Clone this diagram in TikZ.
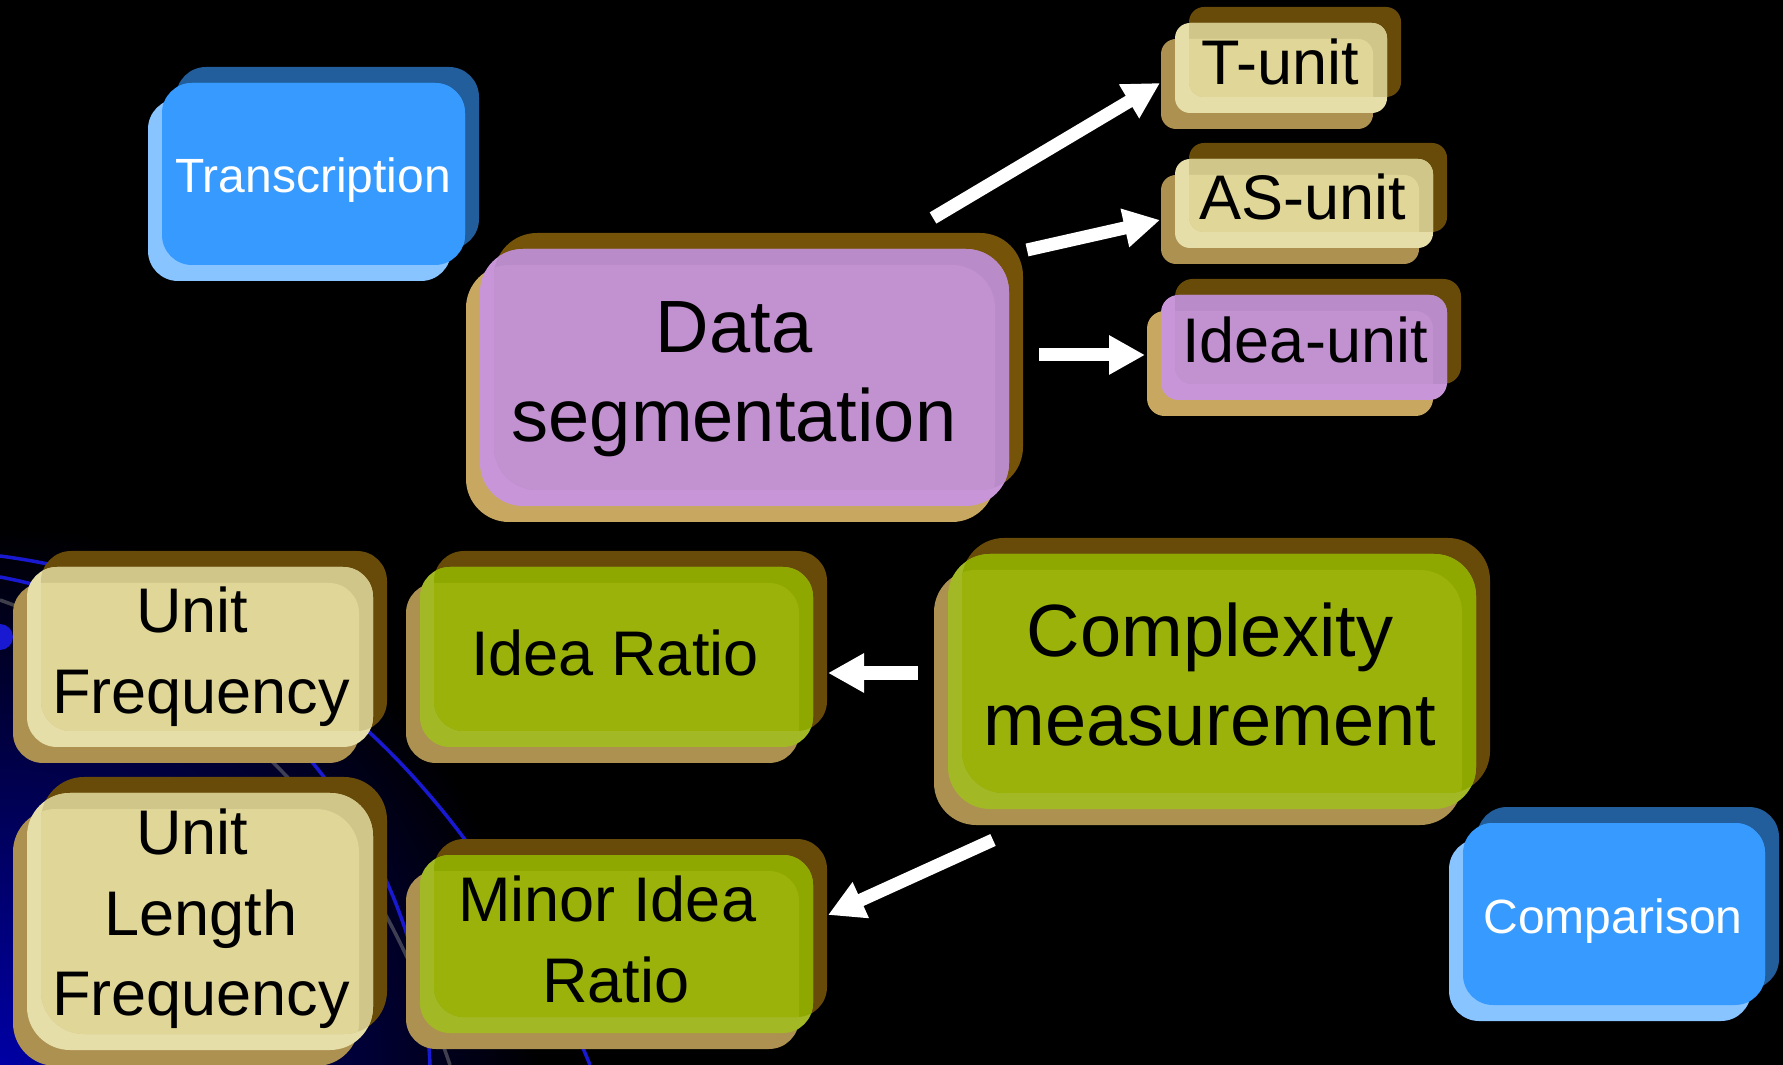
\documentclass[tikz,border=0pt]{standalone}
\usepackage{fontspec}
\setmainfont{Liberation Sans}
\usetikzlibrary{arrows.meta}
% tan scheme
\definecolor{tanD}{RGB}{104,75,8}
\definecolor{tanL}{RGB}{173,145,80}
\definecolor{tanM}{RGB}{230,222,168}
\definecolor{tanMD}{RGB}{209,198,138}
\definecolor{tanMI}{RGB}{224,214,152}
% green scheme
\definecolor{grnD}{RGB}{104,75,8}
\definecolor{grnL}{RGB}{173,145,80}
\definecolor{grnM}{RGB}{162,185,37}
\definecolor{grnMD}{RGB}{143,168,0}
\definecolor{grnMI}{RGB}{154,178,10}
% purple scheme (big)
\definecolor{purD}{RGB}{117,84,10}
\definecolor{purL}{RGB}{200,168,96}
\definecolor{purM}{RGB}{200,150,216}
\definecolor{purMD}{RGB}{185,139,201}
\definecolor{purMI}{RGB}{194,145,207}
% purple scheme (small)
\definecolor{pusD}{RGB}{104,75,8}
\definecolor{pusL}{RGB}{200,168,96}
\definecolor{pusM}{RGB}{200,150,216}
\definecolor{pusMD}{RGB}{185,139,201}
\definecolor{pusMI}{RGB}{194,145,207}
% blue scheme
\definecolor{bluD}{RGB}{33,94,155}
\definecolor{bluL}{RGB}{136,196,255}
\definecolor{bluM}{RGB}{54,154,255}
\definecolor{bluMD}{RGB}{54,154,255}
\definecolor{bluMI}{RGB}{54,154,255}
\definecolor{glow}{RGB}{0,0,165}
\definecolor{arcblue}{RGB}{25,25,210}

\newcommand\stackbox[6]{%
  \fill[#6D, rounded corners=#5] (#1+14,#2-16) rectangle (#3+14,#4-16);
  \fill[#6L, rounded corners=#5] (#1-14,#2+16) rectangle (#3-14,#4+16);
  \fill[#6M, rounded corners=#5] (#1,#2) rectangle (#3,#4);
  \begin{scope}
    \clip[rounded corners=#5] (#1+14,#2-16) rectangle (#3+14,#4-16);
    \fill[#6MD, rounded corners=#5] (#1,#2) rectangle (#3,#4);
    \clip[rounded corners=#5] (#1-14,#2+16) rectangle (#3-14,#4+16);
    \fill[#6MI, rounded corners=#5] (#1,#2) rectangle (#3,#4);
  \end{scope}}
\newcommand\tsp{\hphantom{\ }}

\tikzset{
  lbl/.style={align=center, inner sep=0pt, text=black,
    font=\fontsize{17.93pt}{22.76pt}\selectfont},
  lblbig/.style={lbl, font=\fontsize{21.06pt}{25.2pt}\selectfont},
  lblsm/.style={lbl, text=white, font=\fontsize{13.66pt}{15.65pt}\selectfont},
  arr/.style={draw=white, line width=3.7pt,
    -{Triangle[length=0.36cm,width=0.37cm]}},
}

\begin{document}
\begin{tikzpicture}[x=0.01cm,y=-0.01cm]
\useasboundingbox (0,0) rectangle (1783,1065);
\fill[black] (0,0) rectangle (1783,1065);
% background glow and arcs
\begin{scope}
  \clip (0,0) rectangle (1783,1065);
  \shade[inner color=glow, outer color=black] (0,1065) circle (540);
  \draw[arcblue, line width=1pt] (0,556) .. controls (260,590) and (470,770) .. (590,1065);
  \draw[arcblue, line width=1pt] (0,577) .. controls (230,620) and (420,820) .. (430,1065);
  \draw[white!55!black, opacity=0.45, line width=1pt] (0,600) .. controls (220,680) and (360,800) .. (450,1065);
  \fill[arcblue] (0,637) circle (13);
\end{scope}

% boxes
\stackbox{162}{83}{465}{265}{0.30cm}{blu}
\stackbox{480}{249}{1009}{506}{0.43cm}{pur}
\stackbox{1175}{23}{1387}{113}{0.15cm}{tan}
\stackbox{1175}{159}{1433}{248}{0.15cm}{tan}
\stackbox{1161}{295}{1447}{400}{0.175cm}{pus}
\stackbox{27}{567}{373}{747}{0.30cm}{tan}
\stackbox{27}{793}{373}{1050}{0.43cm}{tan}
\stackbox{420}{567}{813}{747}{0.30cm}{grn}
\stackbox{420}{855}{813}{1033}{0.30cm}{grn}
\stackbox{948}{554}{1476}{809}{0.42cm}{grn}
\stackbox{1463}{823}{1765}{1005}{0.30cm}{blu}

% labels
\node[lblsm] (trans) at (313,182) {Transcription\strut};
\node[lblsm] (cmp) at (1613,922) {Comparison\strut};
\node[lblbig] (ds) at (734,379) {Data\strut\\segmentation\strut};
\node[lbl] (tu) at (1280,69) {T-unit\strut};
\node[lbl] (asu) at (1303,204) {AS-unit\strut};
\node[lbl] (iu) at (1305,347) {Idea-unit\strut};
\node[lbl] (uf) at (201,657) {Unit\tsp\strut\\Frequency\strut};
\node[lbl] (ulf) at (201,919) {Unit\tsp\strut\\Length\strut\\Frequency\strut};
\node[lbl] (ir) at (615,659) {Idea Ratio\strut};
\node[lbl] (mir) at (616,946) {Minor Idea\tsp\strut\\Ratio\strut};
\node[lblbig] (cm) at (1210,683) {Complexity\strut\\measurement\strut};

% arrow ends
\coordinate (a1s) at (933,218);
\coordinate (a1e) at (1160,83);
\coordinate (a2s) at (1027,250);
\coordinate (a2e) at (1160,220);
\coordinate (a3s) at (1039,355);
\coordinate (a3e) at (1145,355);
\coordinate (a4s) at (918,673);
\coordinate (a4e) at (828,673);
\coordinate (a5s) at (993,840);
\coordinate (a5e) at (828,915);

\draw[arr] (a1s) -- (a1e);
\draw[arr] (a2s) -- (a2e);
\draw[arr] (a3s) -- (a3e);
\draw[arr] (a4s) -- (a4e);
\draw[arr] (a5s) -- (a5e);
\end{tikzpicture}
\end{document}
